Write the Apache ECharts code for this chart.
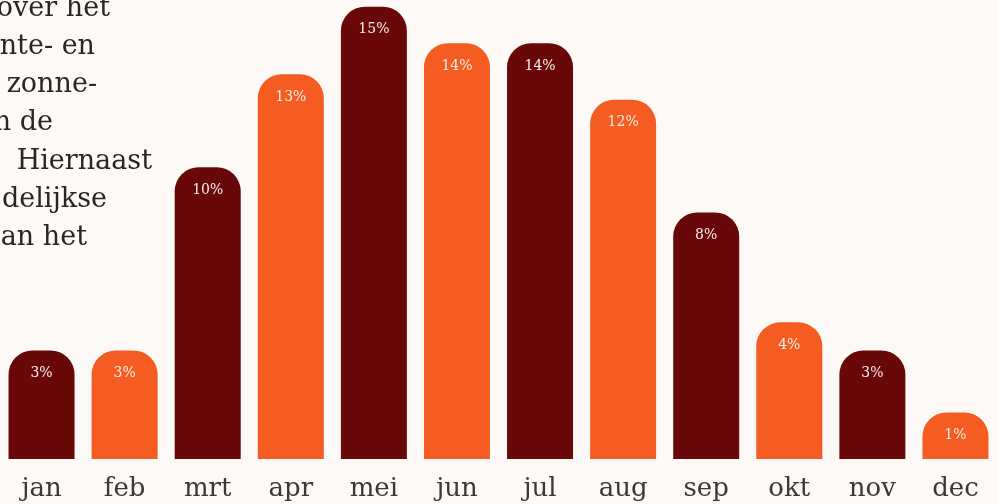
<!DOCTYPE html>
<html>
<head>
<meta charset="utf-8">
<script src="https://cdn.jsdelivr.net/npm/echarts@6/dist/echarts.min.js"></script>
<style>
    html, body { margin: 0; padding: 0; background: #fdf9f6; }
    #chart { width: 998px; height: 504px; }
</style>
</head>
<body>
<div id="chart"></div>
<script>
// maanden en aandeel per maand (%)
var months = ['jan', 'feb', 'mrt', 'apr', 'mei', 'jun', 'jul', 'aug', 'sep', 'okt', 'nov', 'dec'];
var shares = [3.1, 3.1, 9.6, 12.9, 15.3, 14.0, 14.0, 12.0, 8.0, 4.1, 3.1, 0.9];

// tekst links (afgesneden door de rand)
var introLines = ['over het', 'nte- en', 'zonne-', 'n de', 'Hiernaast', 'delijkse', 'an het'];
var introRight = [110, 95, 97, 53, 152, 107, 87];

var colors = ['#690809', '#f45c22'];
var yMin = -0.75;

var chart = echarts.init(document.getElementById('chart'));

var graphics = [];
for (var i = 0; i < introLines.length; i++) {
    graphics.push({
        type: 'text',
        x: introRight[i],
        y: 22 + i * 38.3,
        style: {
            text: introLines[i],
            align: 'right',
            verticalAlign: 'bottom',
            fill: '#2a2626',
            font: '27px "DejaVu Serif"'
        }
    });
}

var option = {
    backgroundColor: '#fdf9f6',
    animation: false,
    grid: {
        left: -3,
        width: 1000,
        top: 1,
        bottom: 45
    },
    xAxis: {
        type: 'category',
        data: months,
        axisLine: { show: false },
        axisTick: { show: false },
        axisLabel: {
            color: '#3a3838',
            fontFamily: 'DejaVu Serif',
            fontSize: 26,
            margin: 17
        }
    },
    yAxis: {
        type: 'value',
        min: yMin,
        max: 15.5,
        show: false,
        splitLine: { show: false }
    },
    graphic: graphics,
    series: [{
        type: 'custom',
        data: shares.map(function (v, i) { return [i, v]; }),
        renderItem: function (params, api) {
            var top = api.coord([api.value(0), api.value(1)]);
            var base = api.coord([api.value(0), yMin]);
            var w = 66;
            return {
                type: 'group',
                children: [{
                    type: 'rect',
                    shape: {
                        x: top[0] - w / 2,
                        y: top[1],
                        width: w,
                        height: base[1] - top[1],
                        r: [24, 24, 0, 0]
                    },
                    style: { fill: colors[params.dataIndex % 2] }
                }, {
                    type: 'text',
                    style: {
                        text: Math.round(api.value(1)) + '%',
                        x: top[0],
                        y: top[1] + 23,
                        align: 'center',
                        verticalAlign: 'middle',
                        fill: '#f9eee6',
                        font: '14px "DejaVu Serif"'
                    }
                }]
            };
        }
    }]
};

chart.setOption(option);
</script>
</body>
</html>
